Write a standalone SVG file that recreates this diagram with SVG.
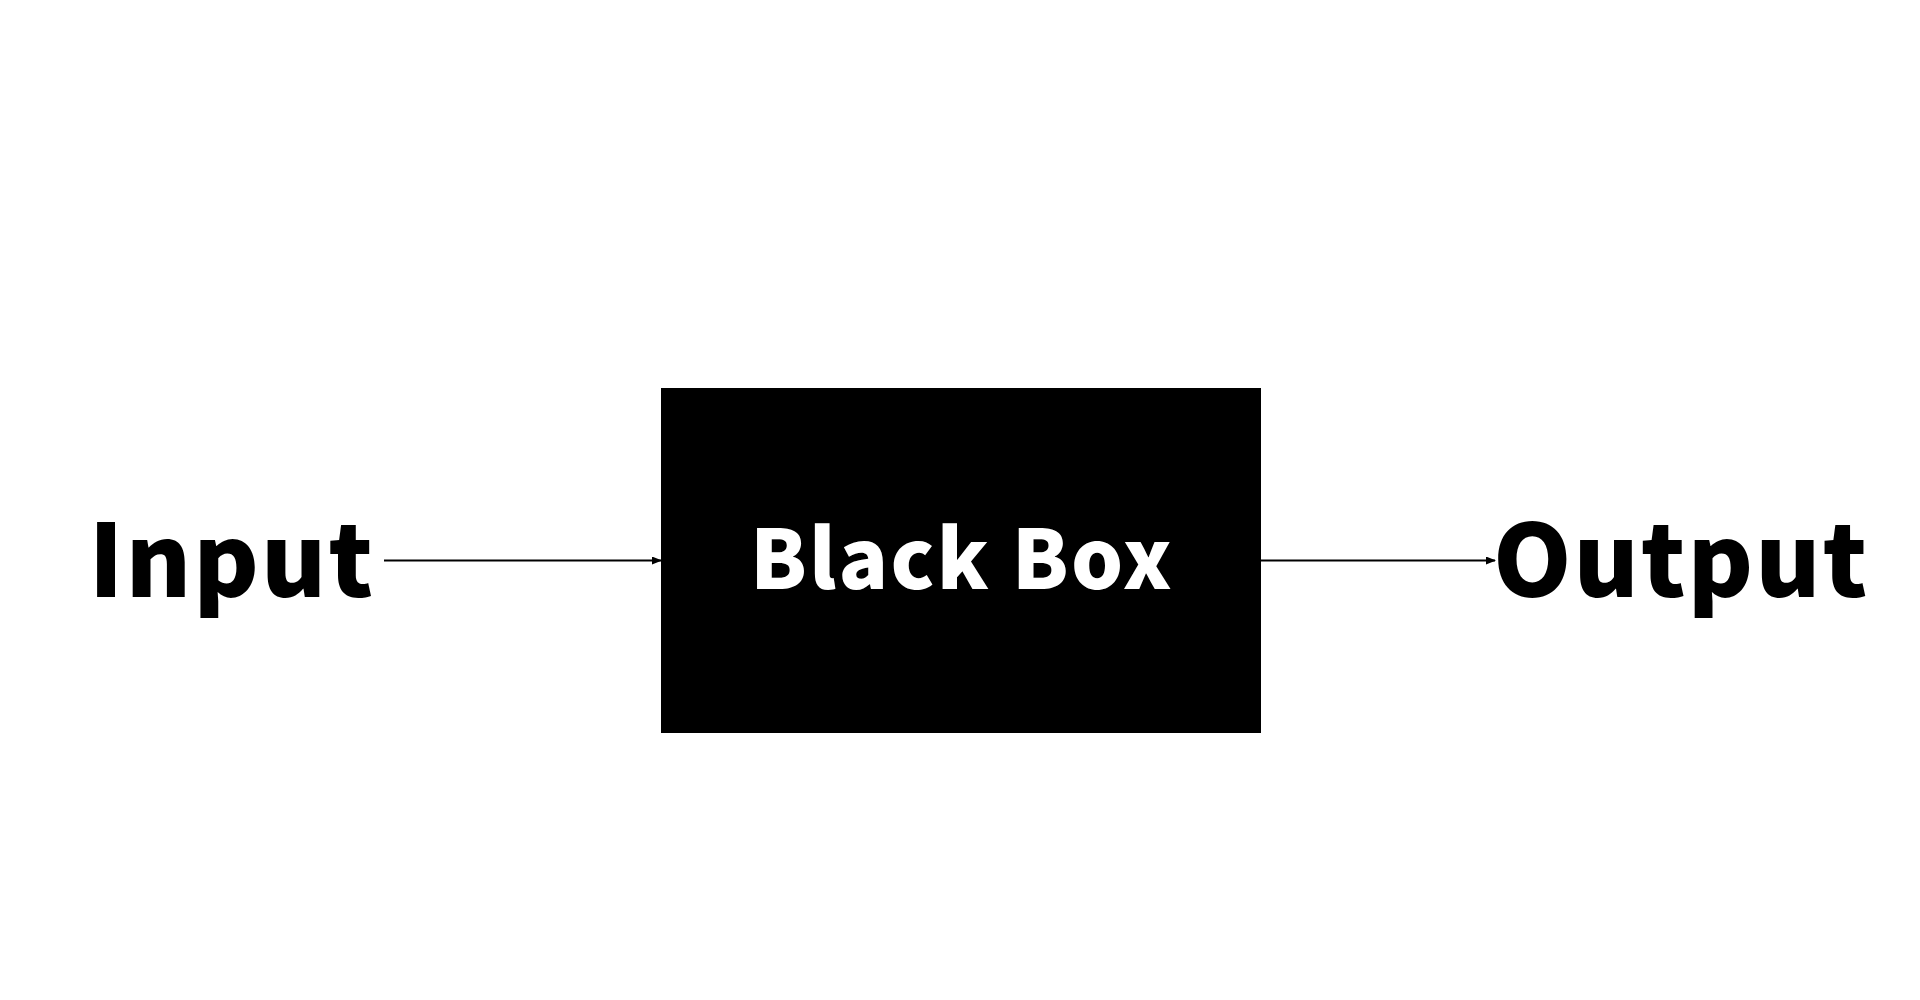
<svg xmlns="http://www.w3.org/2000/svg" width="1920" height="1000" viewBox="0 0 1920 1000">
<style>
.lbl{font-family:"Noto Sans CJK JP","Noto Sans",sans-serif;font-weight:900;fill:#000;font-size:100px;letter-spacing:2px}
.box{font-family:"Noto Sans CJK JP","Noto Sans",sans-serif;font-weight:900;fill:#fff;font-size:82px;letter-spacing:2.2px}
.edge{stroke:#000;stroke-width:2;fill:none;marker-end:url(#ah)}
</style>
<defs>
<marker id="ah" markerWidth="10" markerHeight="8" refX="9" refY="4" orient="auto" markerUnits="userSpaceOnUse">
<path d="M0,0 L10,4 L0,8 Z" fill="#000"/>
</marker>
</defs>
<rect width="1920" height="1000" fill="#fff"/>
<g id="input"><text class="lbl" x="375" y="597" text-anchor="end">Input</text></g>
<g id="blackbox"><rect x="661" y="388" width="600" height="345" fill="#000"/><text class="box" x="962" y="589" text-anchor="middle">Black Box</text></g>
<g id="output"><text class="lbl" x="1493" y="597">Output</text></g>
<g id="connectors">
<line class="edge" x1="384" y1="560.5" x2="661" y2="560.5"/>
<line class="edge" x1="1261" y1="560.5" x2="1495" y2="560.5"/>
</g>
</svg>
